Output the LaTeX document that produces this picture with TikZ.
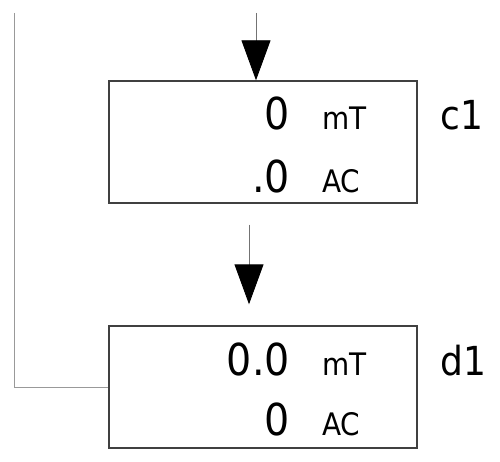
\documentclass[tikz,border=0pt]{standalone}
\usepackage{fontspec}
\setmainfont{DejaVu Sans Condensed}
\usetikzlibrary{arrows.meta}
\begin{document}
\begin{tikzpicture}[x=1pt,y=-1pt,
  box/.style={draw=black!75,line width=1.4pt,rectangle,minimum width=308pt,minimum height=122pt,inner sep=0pt},
  val/.style={anchor=base east,inner sep=0pt,font=\fontsize{44}{44}\selectfont},
  unit/.style={anchor=base west,inner sep=0pt,font=\fontsize{31}{31}\selectfont},
  lbl/.style={anchor=base west,inner sep=0pt,font=\fontsize{40}{40}\selectfont},
  flow/.style={draw=black!55,line width=0.9pt,-{Triangle[width=29pt,length=40pt,black]}},
  back/.style={draw=black!40,line width=1pt}]
\useasboundingbox (0,0) rectangle (500,462);
\node[box] (c1) at (263,142) {};
\node[box] (d1) at (263,387) {};
\node[val] (c1v1) at (290,130) {0};
\node[unit] (c1u1) at (322,130) {mT};
\node[val] (c1v2) at (290,193) {.0};
\node[unit] (c1u2) at (322,193) {AC};
\node[lbl] (c1l) at (440,130) {c1};
\node[val] (d1v1) at (290,375) {0.0};
\node[unit] (d1u1) at (322,375) {mT};
\node[val] (d1v2) at (290,435) {0};
\node[unit] (d1u2) at (322,435) {AC};
\node[lbl] (d1l) at (440,375) {d1};
\coordinate (in1) at (256,13);
\coordinate (fb) at (14,13);
\draw[flow] (in1) -- (in1 |- c1.north);
\draw[flow] ([xshift=-14pt,yshift=-21pt]c1.south) -- ([xshift=-14pt,yshift=21pt]d1.north);
\draw[back] (fb) |- (d1.west);
\end{tikzpicture}
\end{document}
